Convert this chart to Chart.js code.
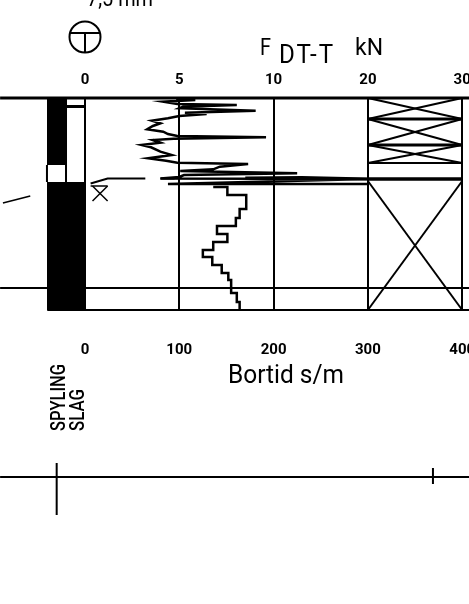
<!DOCTYPE html>
<html>
<head>
<meta charset="utf-8">
<style>html,body{margin:0;padding:0;background:#fff;overflow:hidden}div{width:469px;height:604px;overflow:hidden}canvas{display:block}</style>
<script src="https://cdn.jsdelivr.net/npm/chart.js@4"></script>
</head>
<body>
<div><canvas id="c" width="520" height="604"></canvas></div>
<script>
const bottomTicks = [0, 100, 200, 300, 400];
const topTickLabels = ['0', '5', '10', '20', '30'];
const forceCurve = [[98,0],[98,0.15],[117,0.2],[83,0.37],[98,0.6],[161,0.7],[104,0.87],[100,1.03],[181,1.27],[106,1.47],[129,1.6],[100,1.8],[88,2.03],[71,2.27],[80,2.53],[72,2.8],[66,3.13],[83,3.37],[88,3.6],[98,3.8],[192,3.93],[94,4.07],[72,4.2],[80,4.47],[60,4.7],[70,4.93],[80,5.37],[92,5.7],[67,6.03],[86,6.27],[98,6.47],[173,6.6],[143,6.87],[136,7.13],[101,7.3],[225,7.53],[105,7.7],[100,7.9],[80,8.05],[300,8.1],[88,8.6],[300,8.6]];
const forceBand = [[170,8.0],[230,7.95],[300,8.1],[400,8.1]];
const timeCurve = [[136,8.9],[151,8.9],[151,9.7],[171,9.7],[171,11.1],[164,11.1],[164,12],[160,12],[160,12.8],[140,12.8],[140,13.6],[151,13.6],[151,14.4],[136,14.4],[136,15.2],[125,15.2],[125,15.9],[135,15.9],[135,16.7],[145,16.7],[145,17.5],[152,17.5],[152,18.2],[155,18.2],[155,19.5],[161,19.5],[161,20.4],[164,20.4],[164,21.2]];
const blockDepths = [0, 2.1, 4.7, 6.5, 8.1, 21.2];
const crossedBlocks = [[0, 2.1], [2.1, 4.7], [4.7, 6.5], [8.3, 21.2]];
const waterLine = [[6,8.55],[24,8.05],[64,8.05]];
const waterLine2 = [[80,8.05],[95,8.05]];
const waterMark = [[[6,8.8],[24,8.8]],[[8,8.8],[24,10.3]],[[24,8.8],[8,10.3]]];
const leftStroke = [[-87,10.5],[-58,9.8]];
const frameLines = [[[-90,0],[462,0]],[[-40,21.2],[462,21.2]],[[-90,19],[462,19]]];
const lowerLine = [[-90,37.9],[462,37.9]];
const lowerTicks = [[[-30,36.5],[-30,41.7]],[[369,37],[369,38.6]]];
const blackFills = [[-40.3,-20.1,0,6.7],[-40.3,0,8.4,21.2],[-20.1,0,0.7,1.0]];
const columnLines = [[[-40.3,6.7],[-40.3,8.4]],[[-20.1,0],[-20.1,8.4]]];

const pts = a => a.map(p => ({x:p[0], y:p[1]}));
const line = (a, w, extra) => Object.assign({data:pts(a), showLine:true, borderColor:'#000', backgroundColor:'#000', borderWidth:w, pointRadius:0, tension:0, clip:false}, extra||{});
const datasets = [];
blackFills.forEach(f => datasets.push(line([[f[0],f[3]],[f[1],f[3]]], 0, {fill:{value:f[2]}})));
frameLines.forEach((a,i) => datasets.push(line(a, i===0?3:2)));
columnLines.forEach(a => datasets.push(line(a, 2)));
blockDepths.forEach(d => datasets.push(line([[300,d],[400,d]], (d===2.1||d===4.7||d===8.1)?3:2)));
crossedBlocks.forEach(b => {
  datasets.push(line([[300,b[0]],[400,b[1]]], 2));
  datasets.push(line([[400,b[0]],[300,b[1]]], 2));
});
datasets.push(line(forceCurve, 2.5));
datasets.push(line(forceBand, 3));
datasets.push(line(timeCurve, 2.5));
datasets.push(line(waterLine, 2));
datasets.push(line(waterLine2, 2));
waterMark.forEach(a => datasets.push(line(a, 1.5)));
datasets.push(line(leftStroke, 1.5));
datasets.push(line(lowerLine, 2));
lowerTicks.forEach(a => datasets.push(line(a, 2)));

const face = 'Roboto,"DejaVu Sans"';
const drawText = (ctx, s, x, y, font, maxW) => { ctx.font = font; ctx.fillText(s, x, y, maxW); };
const annotations = {
  id:'annotations',
  afterDraw(chart){
    const ctx = chart.ctx;
    ctx.save();
    ctx.fillStyle = '#000'; ctx.strokeStyle = '#000';
    ctx.textAlign = 'left'; ctx.textBaseline = 'alphabetic';
    drawText(ctx, '7,5 mm', 87, 6, '23px '+face, 66);
    drawText(ctx, 'F', 260, 55, '23px '+face, 11);
    ctx.letterSpacing = '2px';
    drawText(ctx, 'DT-T', 279, 63, '25px '+face, 56);
    ctx.letterSpacing = '0px';
    drawText(ctx, 'kN', 355, 55, '24px '+face, 28);
    drawText(ctx, 'Bortid s/m', 228, 383, '26px '+face, 116);
    ctx.save(); ctx.translate(65, 431); ctx.rotate(-Math.PI/2);
    drawText(ctx, 'SPYLING', 0, 0, '500 21px '+face, 67); ctx.restore();
    ctx.save(); ctx.translate(84, 431); ctx.rotate(-Math.PI/2);
    drawText(ctx, 'SLAG', 0, 0, '500 21px '+face, 42); ctx.restore();
    // drill-head symbol
    ctx.lineWidth = 2;
    ctx.beginPath(); ctx.arc(85, 37, 15.5, 0, Math.PI*2); ctx.stroke();
    ctx.beginPath(); ctx.moveTo(70, 33); ctx.lineTo(100, 33); ctx.moveTo(85, 33); ctx.lineTo(85, 52); ctx.stroke();
    ctx.restore();
  }
};

new Chart(document.getElementById('c'), {
  type:'scatter',
  data:{datasets},
  plugins:[annotations],
  options:{
    responsive:false, animation:false, devicePixelRatio:1,
    layout:{padding:0},
    plugins:{legend:{display:false}, tooltip:{enabled:false}},
    scales:{
      x:{type:'linear', position:'bottom', min:-90.1, max:461.3,
        afterBuildTicks:s => { s.ticks = bottomTicks.map(v => ({value:v})); },
        afterFit:s => { s.height = 294; },
        border:{display:false},
        grid:{color:'#000', lineWidth:2, drawTicks:false},
        ticks:{padding:31, color:'#000', autoSkip:false, maxRotation:0, font:{family:face, size:15, weight:'bold'}}
      },
      top:{type:'linear', position:'top', min:-90.1, max:461.3,
        afterBuildTicks:s => { s.ticks = bottomTicks.map(v => ({value:v})); },
        afterFit:s => { s.height = 98; },
        border:{display:false},
        grid:{display:false, drawTicks:false},
        ticks:{padding:9, color:'#000', autoSkip:false, maxRotation:0, font:{family:face, size:15, weight:'bold'},
          callback:(v) => topTickLabels[bottomTicks.indexOf(v)]}
      },
      y:{type:'linear', reverse:true, min:0, max:21.2, display:false,
        afterFit:s => { s.width = 0; }}
    }
  }
});
</script>
</body>
</html>
